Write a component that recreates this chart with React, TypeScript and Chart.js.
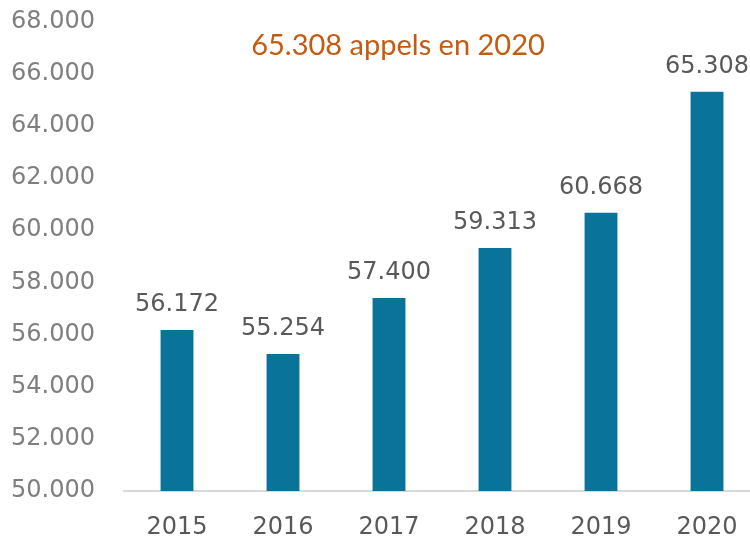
import React, { useEffect, useRef } from "react";
import { Chart, registerables } from "chart.js";

Chart.register(...registerables);

const years = ["2015", "2016", "2017", "2018", "2019", "2020"];
const calls = [56172, 55254, 57400, 59313, 60668, 65308];
const titleText = "65.308 appels en 2020";
const yMin = 50000;
const yMax = 68000;
const yStep = 2000;

const fmt = (v: number) => {
  const s = Math.round(v).toString();
  return s.replace(/\B(?=(\d{3})+(?!\d))/g, ".");
};

const FONT = "'DejaVu Sans', sans-serif";
const TITLE_FONT = "Lato, 'Open Sans', sans-serif";

const labelPlugin = {
  id: "barLabels",
  afterDatasetsDraw(chart: any) {
    const ctx = chart.ctx;
    const meta = chart.getDatasetMeta(0);
    ctx.save();
    ctx.font = `24px ${FONT}`;
    ctx.fillStyle = "#595959";
    ctx.textAlign = "center";
    ctx.textBaseline = "alphabetic";
    meta.data.forEach((bar: any, i: number) => {
      ctx.fillText(fmt(calls[i]), bar.x, bar.y - 19);
    });
    // title
    const ca = chart.chartArea;
    ctx.font = `29px ${TITLE_FONT}`;
    ctx.fillStyle = "#c55a11";
    ctx.textAlign = "center";
    ctx.textBaseline = "alphabetic";
    ctx.fillText(titleText, 398, ca.top + 34);
    ctx.restore();
  },
};

export default function App() {
  const ref = useRef<HTMLCanvasElement>(null);
  useEffect(() => {
    document.body.style.margin = "0";
    document.body.style.overflow = "hidden";
    const chart = new Chart(ref.current!, {
      type: "bar",
      data: {
        labels: years,
        datasets: [
          {
            data: calls,
            backgroundColor: "#0a7399",
            barPercentage: 0.31,
            categoryPercentage: 1,
          },
        ],
      },
      options: {
        animation: false,
        responsive: false,
        devicePixelRatio: 1,
        layout: { padding: { top: 6, right: 0, left: 0, bottom: 0 } },
        plugins: { legend: { display: false }, tooltip: { enabled: false }, title: { display: false } },
        scales: {
          x: {
            grid: { display: false, drawTicks: false },
            border: { display: true, color: "#d9d9d9", width: 2 },
            ticks: { color: "#595959", font: { family: FONT, size: 24 }, padding: 22 },
            afterFit: (s: any) => {
              s.height = 53;
            },
          },
          y: {
            min: yMin,
            max: yMax,
            grid: { display: false, drawTicks: false },
            border: { display: false },
            ticks: {
              stepSize: yStep,
              color: "#7f7f7f",
              font: { family: FONT, size: 24 },
              padding: 29,
              callback: (v: any) => fmt(Number(v)),
            },
            afterFit: (s: any) => {
              s.width = 124;
            },
          },
        },
      },
      plugins: [labelPlugin],
    });
    return () => chart.destroy();
  }, []);
  return (
    <div style={{ position: "absolute", left: 0, top: -22, width: 760, height: 566 }}>
      <canvas ref={ref} width={760} height={566} style={{ display: "block" }} />
    </div>
  );
}
